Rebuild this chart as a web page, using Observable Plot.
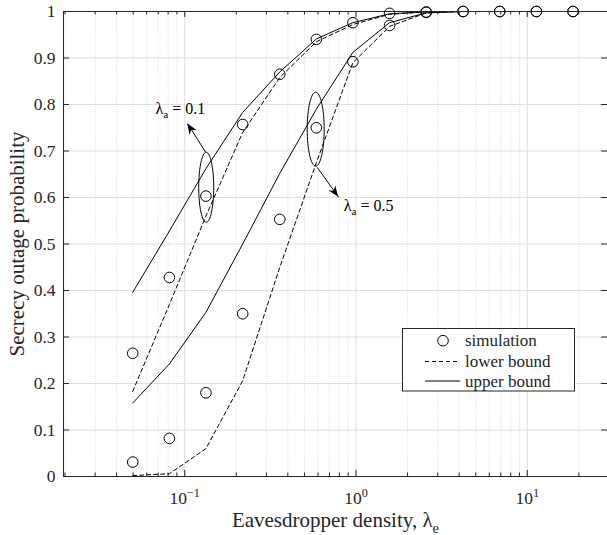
<!DOCTYPE html>
<html><head><meta charset="utf-8">
<script src="https://cdn.jsdelivr.net/npm/d3@7"></script>
<script src="https://cdn.jsdelivr.net/npm/@observablehq/plot@0.6"></script>
<style>
body{margin:0;background:#fff;overflow:hidden}
#chart{position:relative;width:607px;height:535px}
</style>
</head><body><div id="chart"></div>
<script>
// ---- data ----
const lambdaE = [0.0497, 0.0814, 0.133, 0.218, 0.359, 0.587, 0.959, 1.57, 2.57, 4.22, 6.90, 11.3, 18.5];
const sim01   = [0.265, 0.428, 0.603, 0.757, 0.865, 0.940, 0.976, 0.996, 0.999, 1, 1, 1, 1];
const sim05   = [0.031, 0.082, 0.180, 0.350, 0.553, 0.750, 0.892, 0.970, 0.998, 1, 1, 1, 1];
const upper01 = [0.396, 0.528, 0.662, 0.783, 0.870, 0.941, 0.976, 0.995, 0.9995, 1, 1, 1, 1];
const lower01 = [0.183, 0.370, 0.560, 0.740, 0.858, 0.935, 0.972, 0.994, 0.999, 1, 1, 1, 1];
const upper05 = [0.158, 0.242, 0.353, 0.500, 0.652, 0.790, 0.912, 0.976, 0.997, 1, 1, 1, 1];
const lower05 = [0.002, 0.006, 0.060, 0.206, 0.450, 0.675, 0.890, 0.968, 0.997, 1, 1, 1, 1];

const xMajor = [0.1, 1, 10];
const xMajorLabels = ["10^{\u22121}", "10^{0}", "10^{1}"];
const xMinor = [0.02,0.03,0.04,0.05,0.06,0.07,0.08,0.09,0.2,0.3,0.4,0.5,0.6,0.7,0.8,0.9,2,3,4,5,6,7,8,9,20];
const yTicks = [0,0.1,0.2,0.3,0.4,0.5,0.6,0.7,0.8,0.9,1];
const yTickLabels = ["0","0.1","0.2","0.3","0.4","0.5","0.6","0.7","0.8","0.9","1"];

// annotations (data coordinates)
const annText = ["λ_{a} = 0.1", "λ_{a} = 0.5"];
const annX = [0.0675, 0.8475];
const annY = [0.791, 0.583];
const ellX = [0.1335, 0.5816];
const ellY = [0.622, 0.747];
const arrowX1 = [0.1327, 0.593], arrowY1 = [0.697, 0.665];
const arrowX2 = [0.1041, 0.7925], arrowY2 = [0.7585, 0.6006];

const legendLabels = ["simulation", "lower bound", "upper bound"];

// ---- layout ----
const W = 607, H = 535, mL = 63, mR = 0, mT = 11, mB = 59;
const pw = W - mL - mR, ph = H - mT - mB;
const axisColor = "#262626";
const font = "'Liberation Serif', 'Times New Roman', serif";
const dash = "4,3";

function ellipseSymbol(rx, ry) {
  const k = 0.5523;
  return { draw(c) {
    c.moveTo(rx, 0);
    c.bezierCurveTo(rx, k*ry, k*rx, ry, 0, ry);
    c.bezierCurveTo(-k*rx, ry, -rx, k*ry, -rx, 0);
    c.bezierCurveTo(-rx, -k*ry, -k*rx, -ry, 0, -ry);
    c.bezierCurveTo(k*rx, -ry, rx, -k*ry, rx, 0);
    c.closePath();
  }};
}

const plot = Plot.plot({
  width: W, height: H,
  marginLeft: mL, marginRight: mR, marginTop: mT, marginBottom: mB,
  x: {type: "log", domain: [0.0196, 29.4], axis: null},
  y: {domain: [0, 1], axis: null},
  style: {fontFamily: font, fontSize: "17.5px", color: axisColor, background: "white", overflow: "visible"},
  marks: [
    // grid
    Plot.ruleX(xMinor, {stroke: "#d6d6d6", strokeDasharray: "1,1.5", strokeWidth: 0.8}),
    Plot.ruleX(xMajor, {stroke: "#dfdfdf", strokeWidth: 1}),
    Plot.ruleY(yTicks, {stroke: "#dfdfdf", strokeWidth: 1}),
    // curves
    Plot.line(upper01, {x: lambdaE, y: upper01, stroke: "black", strokeWidth: 1}),
    Plot.line(lower01, {x: lambdaE, y: lower01, stroke: "black", strokeWidth: 1, strokeDasharray: dash}),
    Plot.line(upper05, {x: lambdaE, y: upper05, stroke: "black", strokeWidth: 1}),
    Plot.line(lower05, {x: lambdaE, y: lower05, stroke: "black", strokeWidth: 1, strokeDasharray: dash}),
    Plot.dot(sim01, {x: lambdaE, y: sim01, r: 5.3, stroke: "black", fill: "none", strokeWidth: 1}),
    Plot.dot(sim05, {x: lambdaE, y: sim05, r: 5.3, stroke: "black", fill: "none", strokeWidth: 1}),
    // annotations
    Plot.dot([0], {x: [ellX[0]], y: [ellY[0]], symbol: ellipseSymbol(7.5, 35), stroke: "black", fill: "none", strokeWidth: 1}),
    Plot.dot([0], {x: [ellX[1]], y: [ellY[1]], symbol: ellipseSymbol(8.5, 37), stroke: "black", fill: "none", strokeWidth: 1}),
    Plot.link(arrowX1, {x1: arrowX1, y1: arrowY1, x2: arrowX2, y2: arrowY2, stroke: "black", strokeWidth: 1}),
    Plot.text(annText, {x: annX, y: annY, text: annText, textAnchor: "start", lineAnchor: "middle", fontSize: 16, fill: "black"}),
    // box
    Plot.ruleY([0, 1], {stroke: axisColor, strokeWidth: 1}),
    Plot.ruleX([0.0196], {stroke: axisColor, strokeWidth: 1}),
    // ticks (inward)
    Plot.ruleY(yTicks, {stroke: axisColor, insetRight: pw - 6}),
    Plot.ruleY(yTicks, {stroke: axisColor, insetLeft: pw - 6}),
    Plot.ruleX(xMajor, {stroke: axisColor, insetTop: ph - 6}),
    Plot.ruleX(xMajor, {stroke: axisColor, insetBottom: ph - 6}),
    Plot.ruleX(xMinor, {stroke: axisColor, insetTop: ph - 3.5}),
    Plot.ruleX(xMinor, {stroke: axisColor, insetBottom: ph - 3.5}),
    // tick labels
    Plot.text(yTicks, {y: yTicks, text: yTickLabels, frameAnchor: "left", dx: -8, textAnchor: "end", lineAnchor: "middle", fill: axisColor}),
    Plot.text(xMajor, {x: xMajor, text: xMajorLabels, frameAnchor: "bottom", dy: 22, textAnchor: "middle", lineAnchor: "middle", fill: axisColor}),
    // axis labels
    Plot.text(["Eavesdropper density, λ_{e}"], {frameAnchor: "bottom", dy: 44, textAnchor: "middle", lineAnchor: "middle", fontSize: 21, fill: axisColor}),
    Plot.text(["Secrecy outage probability"], {frameAnchor: "left", dx: -46, rotate: -90, textAnchor: "middle", lineAnchor: "middle", fontSize: 21, fill: axisColor})
  ]
});

document.getElementById("chart").appendChild(plot);
const svg = plot.tagName.toLowerCase() === "svg" ? plot : plot.querySelector("svg");
const NS = "http://www.w3.org/2000/svg";

// sub/superscripts
svg.querySelectorAll("text").forEach(el => {
  const s = el.textContent;
  const re = /([_^])\{([^}]*)\}/g;
  if (!/[_^]\{/.test(s)) return;
  const fs = parseFloat(getComputedStyle(el).fontSize) || 17;
  el.textContent = "";
  let last = 0, cur = 0, m;
  const add = (txt, target, small) => {
    const t = document.createElementNS(NS, "tspan");
    t.textContent = txt;
    const dy = target - cur;
    if (dy) t.setAttribute("dy", dy);
    if (small) t.setAttribute("font-size", (fs * 0.7) + "px");
    cur = target;
    el.appendChild(t);
  };
  while ((m = re.exec(s))) {
    if (m.index > last) add(s.slice(last, m.index), 0, false);
    add(m[2], m[1] === "^" ? -0.42 * fs : 0.28 * fs, true);
    last = re.lastIndex;
  }
  if (last < s.length) add(s.slice(last), 0, false);
});

// arrowheads using the plot's scales
const sx = plot.scale("x"), sy = plot.scale("y");
const fx = v => sx.apply ? sx.apply(v) : d3.scaleLog(sx.domain, sx.range)(v);
const fy = v => sy.apply ? sy.apply(v) : d3.scaleLinear(sy.domain, sy.range)(v);
for (let i = 0; i < arrowX1.length; i++) {
  const x1 = fx(arrowX1[i]), y1 = fy(arrowY1[i]), x2 = fx(arrowX2[i]), y2 = fy(arrowY2[i]);
  const a = Math.atan2(y2 - y1, x2 - x1);
  const L = 11, w = 4.2, n = 7.5;
  const pt = (u, v) => [x2 + u * Math.cos(a) - v * Math.sin(a), y2 + u * Math.sin(a) + v * Math.cos(a)];
  const p = [pt(0, 0), pt(-L, w), pt(-n, 0), pt(-L, -w)];
  const path = document.createElementNS(NS, "path");
  path.setAttribute("d", "M" + p.map(q => q.join(",")).join("L") + "Z");
  path.setAttribute("fill", "black");
  svg.appendChild(path);
}

// legend
const lg = d3.select(svg).append("g").attr("font-family", font).attr("font-size", 17).attr("text-anchor", "start");
lg.append("rect").attr("x", 402.5).attr("y", 328.5).attr("width", 172).attr("height", 62.5)
  .attr("fill", "white").attr("stroke", axisColor).attr("stroke-width", 1);
const rowsY = [340.7, 361.5, 381];
lg.append("circle").attr("cx", 443).attr("cy", rowsY[0]).attr("r", 5.3).attr("fill", "none").attr("stroke", "black");
lg.append("line").attr("x1", 425).attr("x2", 460).attr("y1", rowsY[1]).attr("y2", rowsY[1]).attr("stroke", "black").attr("stroke-dasharray", dash);
lg.append("line").attr("x1", 425).attr("x2", 460).attr("y1", rowsY[2]).attr("y2", rowsY[2]).attr("stroke", "black");
legendLabels.forEach((t, i) => {
  lg.append("text").attr("x", 465).attr("y", rowsY[i]).attr("dy", "0.33em").attr("text-anchor", "start").attr("fill", axisColor).text(t);
});
</script></body></html>
